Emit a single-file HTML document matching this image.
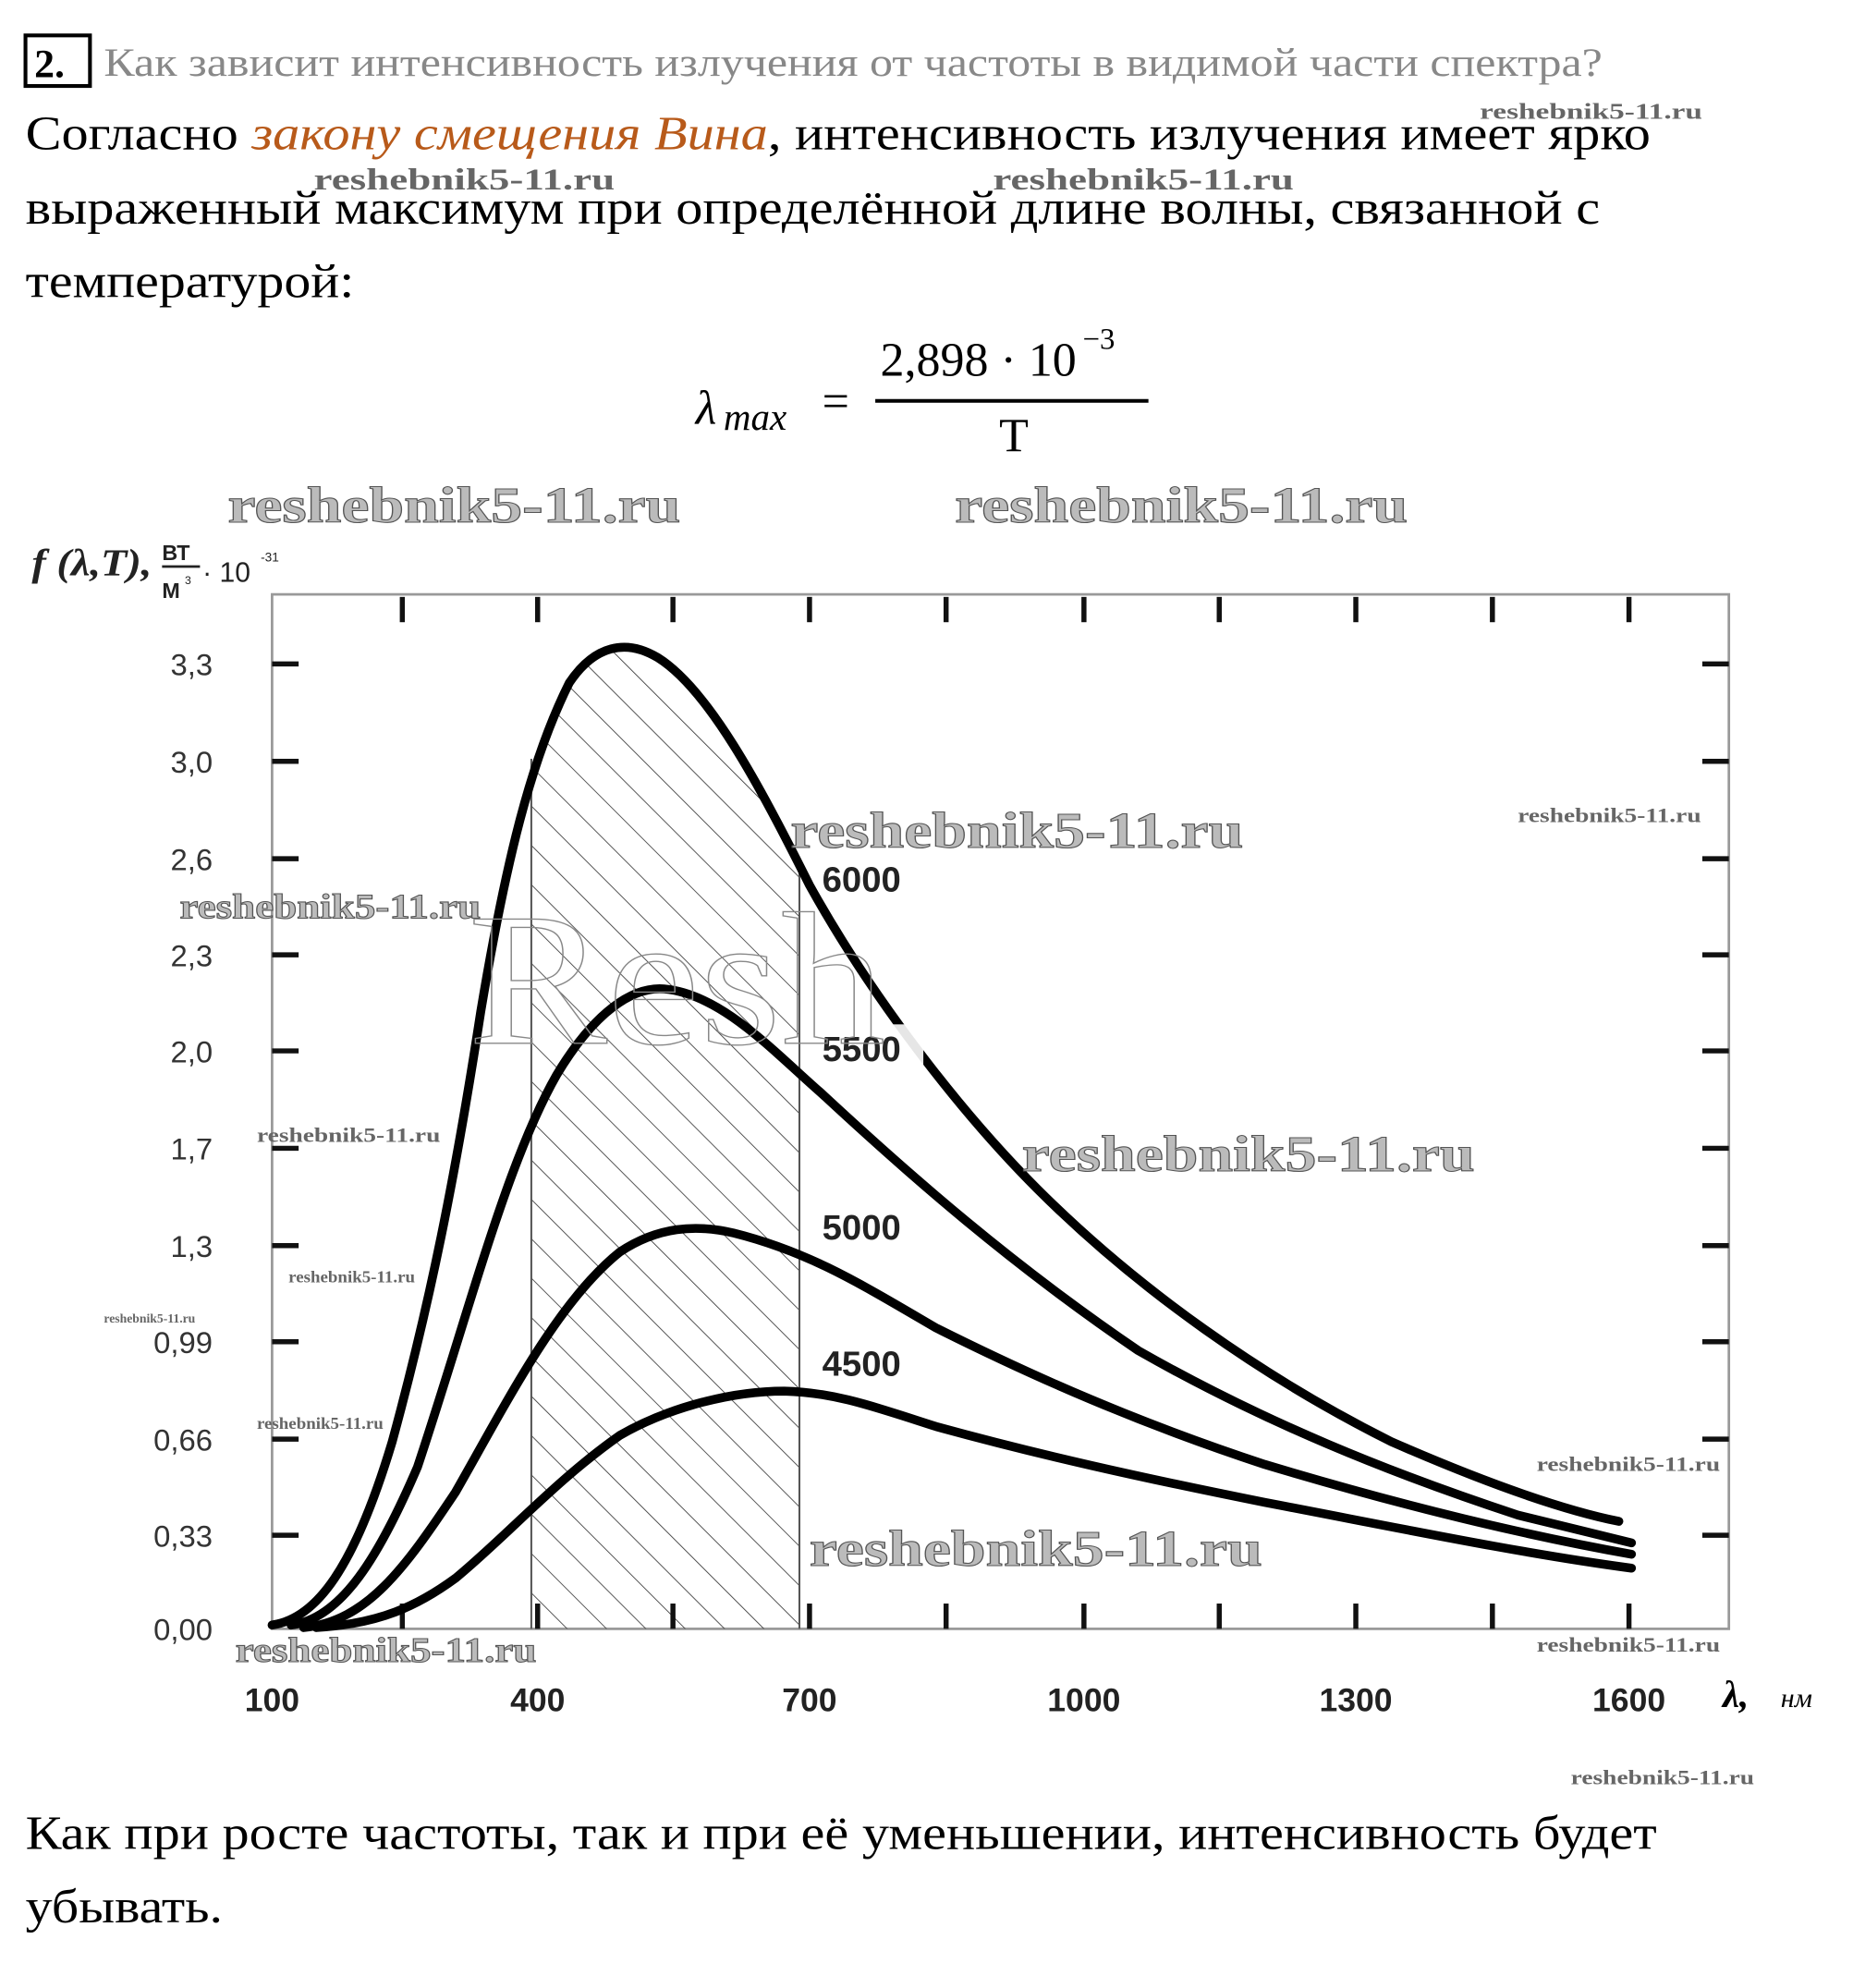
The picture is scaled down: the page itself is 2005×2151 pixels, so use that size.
<!DOCTYPE html>
<html><head><meta charset="utf-8"><style>
html,body{margin:0;padding:0;background:#fff;}
svg{display:block;}
.s{font-family:"Liberation Serif","DejaVu Serif",serif;}
.a{font-family:"Liberation Sans","DejaVu Sans",sans-serif;}
.wm{font-family:"Liberation Serif",serif;font-weight:bold;fill:#bbb;stroke:#555;stroke-width:0.8;}
.wms{font-family:"Liberation Serif",serif;font-weight:bold;fill:#666;}
</style></head><body>
<svg width="2005" height="2151" viewBox="0 0 1465 1572" xmlns="http://www.w3.org/2000/svg">
<defs>
<pattern id="h" patternUnits="userSpaceOnUse" width="22" height="22" patternTransform="rotate(-45)">
<line x1="0" y1="0" x2="0" y2="22" stroke="#333" stroke-width="1.2"/>
</pattern>
<clipPath id="c"><path d="M215,1285 C250,1280 280,1240 310,1140 C340,1030 360,930 380,800 C400,680 420,600 450,540 C470,510 495,505 520,520 C560,545 600,620 640,700 C690,790 760,880 820,940 C900,1020 1000,1090 1100,1140 C1180,1175 1240,1195 1280,1203 L1280,1288 L215,1288 Z"/></clipPath>
</defs>
<!-- header -->
<rect x="20" y="28" width="51" height="40" fill="none" stroke="#000" stroke-width="3"/>
<text x="27" y="61" class="s" font-size="32" font-weight="bold">2.</text>
<text x="82" y="60" class="s" font-size="32" fill="#888" textLength="1185" lengthAdjust="spacingAndGlyphs">Как зависит интенсивность излучения от частоты в видимой части спектра?</text>
<text x="20" y="118" class="s" font-size="38" textLength="1285" lengthAdjust="spacingAndGlyphs">Согласно <tspan fill="#b85a1a" font-style="italic">закону смещения Вина</tspan>, интенсивность излучения имеет ярко</text>
<text x="20" y="177" class="s" font-size="38" textLength="1245" lengthAdjust="spacingAndGlyphs">выраженный максимум при определённой длине волны, связанной с</text>
<text x="20" y="235" class="s" font-size="38" textLength="260" lengthAdjust="spacingAndGlyphs">температурой:</text>
<!-- formula -->
<text x="550" y="335" class="s" font-size="38" font-style="italic">λ</text>
<text x="572" y="340" class="s" font-size="30" font-style="italic">max</text>
<text x="650" y="330" class="s" font-size="38">=</text>
<text x="696" y="297" class="s" font-size="38">2,898 · 10</text>
<text x="856" y="276" class="s" font-size="24">−3</text>
<line x1="692" y1="317" x2="908" y2="317" stroke="#000" stroke-width="3"/>
<text x="790" y="357" class="s" font-size="38">T</text>
<!-- watermarks -->
<text x="1170" y="94" class="wms" font-size="18" textLength="176" lengthAdjust="spacingAndGlyphs">reshebnik5-11.ru</text>
<text x="248" y="150" class="wms" font-size="24" fill="#777" textLength="238" lengthAdjust="spacingAndGlyphs">reshebnik5-11.ru</text>
<text x="785" y="150" class="wms" font-size="24" fill="#777" textLength="238" lengthAdjust="spacingAndGlyphs">reshebnik5-11.ru</text>
<text x="180" y="413" class="wm" font-size="40" textLength="358" lengthAdjust="spacingAndGlyphs">reshebnik5-11.ru</text>
<text x="755" y="413" class="wm" font-size="40" textLength="358" lengthAdjust="spacingAndGlyphs">reshebnik5-11.ru</text>
<!-- axis label -->
<text x="25" y="455" class="s" font-size="30" font-style="italic" font-weight="bold" fill="#222" textLength="95" lengthAdjust="spacingAndGlyphs">f (λ,T),</text>
<text x="128" y="443" class="a" font-size="17" font-weight="bold" fill="#222">ВТ</text>
<line x1="128" y1="448" x2="158" y2="448" stroke="#222" stroke-width="2"/>
<text x="128" y="473" class="a" font-size="17" font-weight="bold" fill="#222">М</text>
<text x="146" y="462" class="a" font-size="9" fill="#222">3</text>
<text x="160" y="460" class="a" font-size="22" fill="#222">· 10</text>
<text x="206" y="444" class="a" font-size="10" fill="#222">-31</text>
<!-- plot box -->
<rect x="215" y="470" width="1152" height="818" fill="none" stroke="#999" stroke-width="2"/>
<rect x="420" y="470" width="212" height="818" fill="url(#h)" clip-path="url(#c)"/>
<line x1="420" y1="600" x2="420" y2="1288" stroke="#555" stroke-width="1.5"/>
<line x1="632" y1="680" x2="632" y2="1288" stroke="#555" stroke-width="1.5"/>
<g stroke="#111" stroke-width="4">
<line x1="318" y1="472" x2="318" y2="492"/><line x1="425" y1="472" x2="425" y2="492"/><line x1="532" y1="472" x2="532" y2="492"/><line x1="640" y1="472" x2="640" y2="492"/><line x1="748" y1="472" x2="748" y2="492"/><line x1="857" y1="472" x2="857" y2="492"/><line x1="964" y1="472" x2="964" y2="492"/><line x1="1072" y1="472" x2="1072" y2="492"/><line x1="1180" y1="472" x2="1180" y2="492"/><line x1="1288" y1="472" x2="1288" y2="492"/>
<line x1="318" y1="1268" x2="318" y2="1288"/><line x1="425" y1="1268" x2="425" y2="1288"/><line x1="532" y1="1268" x2="532" y2="1288"/><line x1="640" y1="1268" x2="640" y2="1288"/><line x1="748" y1="1268" x2="748" y2="1288"/><line x1="857" y1="1268" x2="857" y2="1288"/><line x1="964" y1="1268" x2="964" y2="1288"/><line x1="1072" y1="1268" x2="1072" y2="1288"/><line x1="1180" y1="1268" x2="1180" y2="1288"/><line x1="1288" y1="1268" x2="1288" y2="1288"/>
<g id="yt">
<line x1="215" y1="525" x2="236" y2="525"/><line x1="215" y1="602" x2="236" y2="602"/><line x1="215" y1="679" x2="236" y2="679"/><line x1="215" y1="755" x2="236" y2="755"/><line x1="215" y1="831" x2="236" y2="831"/><line x1="215" y1="908" x2="236" y2="908"/><line x1="215" y1="985" x2="236" y2="985"/><line x1="215" y1="1061" x2="236" y2="1061"/><line x1="215" y1="1138" x2="236" y2="1138"/><line x1="215" y1="1214" x2="236" y2="1214"/>
</g>
<use href="#yt" x="1131"/>
</g>
<g class="a" font-size="24" fill="#333" text-anchor="end">
<text x="168" y="534">3,3</text><text x="168" y="611">3,0</text><text x="168" y="688">2,6</text><text x="168" y="764">2,3</text><text x="168" y="840">2,0</text><text x="168" y="917">1,7</text><text x="168" y="994">1,3</text><text x="168" y="1070">0,99</text><text x="168" y="1147">0,66</text><text x="168" y="1223">0,33</text><text x="168" y="1297">0,00</text>
</g>
<g class="a" font-size="26" fill="#222" text-anchor="middle" font-weight="bold">
<text x="215" y="1353">100</text><text x="425" y="1353">400</text><text x="640" y="1353">700</text><text x="857" y="1353">1000</text><text x="1072" y="1353">1300</text><text x="1288" y="1353">1600</text>
</g>
<text x="1362" y="1350" class="s" font-size="30" font-style="italic" font-weight="bold">λ,</text>
<text x="1408" y="1350" class="s" font-size="22" font-style="italic">нм</text>
<!-- curves -->
<g fill="none" stroke="#000" stroke-width="7" stroke-linecap="round">
<path d="M215,1285 C250,1280 280,1240 310,1140 C340,1030 360,930 380,800 C400,680 420,600 450,540 C470,510 495,505 520,520 C560,545 600,620 640,700 C690,790 760,880 820,940 C900,1020 1000,1090 1100,1140 C1180,1175 1240,1195 1280,1203"/>
<path d="M230,1285 C270,1280 300,1230 330,1160 C370,1040 400,920 440,850 C470,800 500,780 525,782 C570,786 610,830 650,865 C720,930 800,1000 900,1068 C1000,1125 1100,1165 1200,1198 C1240,1208 1270,1215 1290,1220"/>
<path d="M240,1287 C290,1282 320,1240 360,1180 C400,1110 440,1030 490,990 C520,970 550,968 580,975 C640,990 680,1015 740,1050 C820,1090 900,1125 1000,1158 C1100,1188 1200,1213 1290,1229"/>
<path d="M250,1287 C300,1284 330,1270 360,1248 C400,1215 440,1170 490,1135 C530,1112 580,1100 620,1100 C660,1101 690,1112 740,1128 C820,1150 900,1168 1000,1188 C1100,1207 1200,1228 1290,1240"/>
</g>
<rect x="690" y="810" width="40" height="40" fill="#fff" opacity="0.9"/>
<g class="a" font-size="28" font-weight="bold" fill="#222">
<text x="650" y="705">6000</text><text x="650" y="839">5500</text><text x="650" y="980">5000</text><text x="650" y="1088">4500</text>
</g>
<text x="370" y="825" class="s" font-size="150" fill="none" stroke="#888" stroke-width="1" textLength="330" lengthAdjust="spacingAndGlyphs">Resh</text>
<!-- plot watermarks -->
<text x="625" y="670" class="wm" font-size="40" textLength="358" lengthAdjust="spacingAndGlyphs">reshebnik5-11.ru</text>
<text x="142" y="726" class="wm" font-size="28" textLength="238" lengthAdjust="spacingAndGlyphs">reshebnik5-11.ru</text>
<text x="808" y="926" class="wm" font-size="40" textLength="358" lengthAdjust="spacingAndGlyphs">reshebnik5-11.ru</text>
<text x="640" y="1238" class="wm" font-size="40" textLength="358" lengthAdjust="spacingAndGlyphs">reshebnik5-11.ru</text>
<text x="186" y="1314" class="wm" font-size="28" textLength="238" lengthAdjust="spacingAndGlyphs">reshebnik5-11.ru</text>
<text x="1200" y="650" class="wms" font-size="16" textLength="145" lengthAdjust="spacingAndGlyphs">reshebnik5-11.ru</text>
<text x="203" y="903" class="wms" font-size="16" textLength="145" lengthAdjust="spacingAndGlyphs">reshebnik5-11.ru</text>
<text x="228" y="1014" class="wms" font-size="13" textLength="100" lengthAdjust="spacingAndGlyphs">reshebnik5-11.ru</text>
<text x="82" y="1046" class="wms" font-size="10">reshebnik5-11.ru</text>
<text x="203" y="1130" class="wms" font-size="13" textLength="100" lengthAdjust="spacingAndGlyphs">reshebnik5-11.ru</text>
<text x="1215" y="1163" class="wms" font-size="16" textLength="145" lengthAdjust="spacingAndGlyphs">reshebnik5-11.ru</text>
<text x="1215" y="1306" class="wms" font-size="16" textLength="145" lengthAdjust="spacingAndGlyphs">reshebnik5-11.ru</text>
<text x="1242" y="1411" class="wms" font-size="16" textLength="145" lengthAdjust="spacingAndGlyphs">reshebnik5-11.ru</text>
<!-- bottom text -->
<text x="20" y="1462" class="s" font-size="38" textLength="1290" lengthAdjust="spacingAndGlyphs">Как при росте частоты, так и при её уменьшении, интенсивность будет</text>
<text x="20" y="1520" class="s" font-size="38" textLength="156" lengthAdjust="spacingAndGlyphs">убывать.</text>
</svg>
</body></html>
